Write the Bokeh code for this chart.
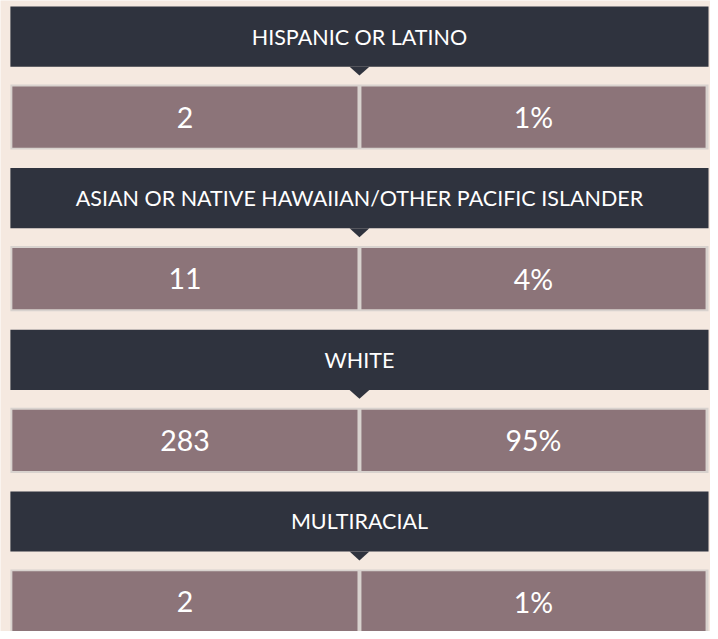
from bokeh.plotting import figure
from bokeh.models import Range1d, ColumnDataSource
from bokeh.core.properties import value
from bokeh.embed import file_html
from bokeh.resources import INLINE

# ---- data ----
categories = ["HISPANIC OR LATINO",
              "ASIAN OR NATIVE HAWAIIAN/OTHER PACIFIC ISLANDER",
              "WHITE",
              "MULTIRACIAL"]
counts = [2, 11, 283, 2]
percents = ["1%", "4%", "95%", "1%"]

# ---- style ----
BG = "#F5E9E0"
HEAD = "#2F333E"
CELL = "#8C7479"
BORDER = "#D8D2CE"
HEAD_FONT = "Lato"
NUM_FONT = "Lato"

# ---- layout (reference pixel coordinates) ----
pitch = 163.7
head_top0, head_h = 6, 61
tri_w, tri_h = 20, 9
cell_top0, cell_h = 85, 66
x_left, x_right = 10, 716
x_mid = 363
n = len(categories)

head_tops = [head_top0 + i * pitch for i in range(n)]
cell_tops = [cell_top0 + i * pitch for i in range(n)]

p = figure(width=710, height=631, output_backend="svg", toolbar_location=None,
           x_range=Range1d(0, 718), y_range=Range1d(639, 0), min_border=0)
p.axis.visible = False
p.grid.visible = False
p.outline_line_color = None
p.background_fill_color = BG
p.border_fill_color = BG

# headers
hs = ColumnDataSource(dict(
    left=[x_left] * n, right=[x_right] * n,
    top=head_tops, bottom=[t + head_h for t in head_tops],
    tx=[x_mid] * n, ty=[t + head_h / 2 for t in head_tops],
    label=categories))
p.quad(left="left", right="right", top="top", bottom="bottom", source=hs,
       fill_color=HEAD, line_color=None)
p.patches(xs=[[x_mid - tri_w / 2, x_mid + tri_w / 2, x_mid] for _ in range(n)],
          ys=[[t + head_h, t + head_h, t + head_h + tri_h] for t in head_tops],
          fill_color=HEAD, line_color=None)
p.text(x="tx", y="ty", text="label", source=hs, text_color="white",
       text_font=value(HEAD_FONT), text_font_size="21.5px", text_align="center",
       text_baseline="middle")

# cell borders
p.quad(left=[x_left] * n, right=[x_right] * n, top=cell_tops,
       bottom=[t + cell_h for t in cell_tops], fill_color=BORDER, line_color=None)
# cell fills
p.quad(left=[x_left + 2] * n, right=[x_mid - 2] * n, top=[t + 2 for t in cell_tops],
       bottom=[t + cell_h - 2 for t in cell_tops], fill_color=CELL, line_color=None)
p.quad(left=[x_mid + 2] * n, right=[x_right - 3] * n, top=[t + 2 for t in cell_tops],
       bottom=[t + cell_h - 2 for t in cell_tops], fill_color=CELL, line_color=None)

cs = ColumnDataSource(dict(
    lx=[(x_left + 2 + x_mid - 2) / 2] * n, rx=[(x_mid + 2 + x_right - 3) / 2] * n,
    y=[t + cell_h / 2 for t in cell_tops],
    count=[str(c) for c in counts], pct=percents))
p.text(x="lx", y="y", text="count", source=cs, text_color="white",
       text_font=value(NUM_FONT), text_font_size="28.5px", text_align="center",
       text_baseline="middle")
p.text(x="rx", y="y", text="pct", source=cs, text_color="white",
       text_font=value(NUM_FONT), text_font_size="28.5px", text_align="center",
       text_baseline="middle")

html = file_html(p, INLINE)
html = html.replace("<body>", '<body style="background:%s">' % BG, 1)
open("out.html", "w").write(html)
